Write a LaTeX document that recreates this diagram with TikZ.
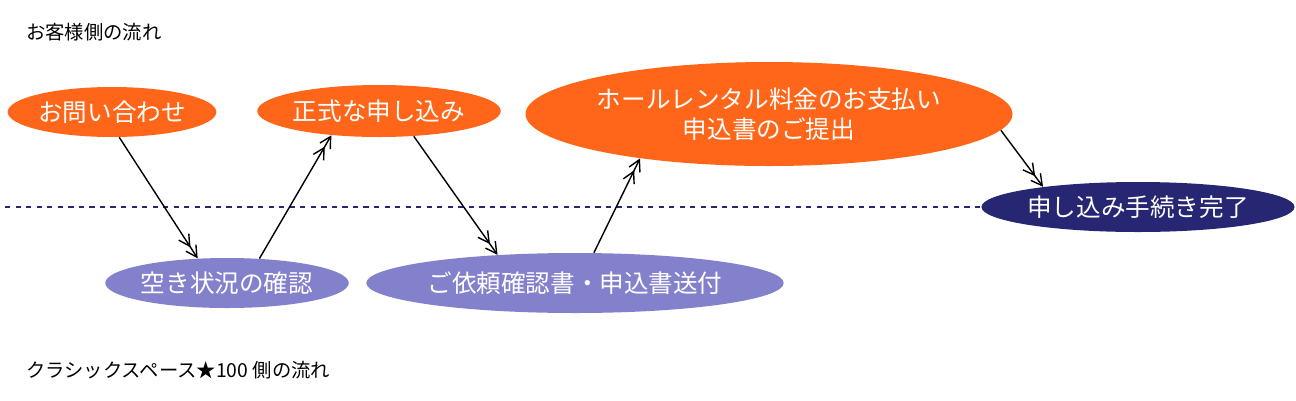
\documentclass[tikz,border=0pt]{standalone}
\usepackage{fontspec}
\setmainfont{Noto Sans CJK JP}
\usetikzlibrary{shapes.geometric}
\usetikzlibrary{arrows.meta}
\definecolor{guestorange}{HTML}{FF6619}
\definecolor{hallpurple}{HTML}{8481CC}
\definecolor{donenavy}{HTML}{262673}
\tikzset{StepStyle/.style={ellipse,inner sep=0pt,text=white,font=\fontsize{14}{17}\selectfont,align=center}}
\tikzset{FlowArrow/.style={thick,-{Straight Barb[length=2.2mm,width=2.4mm]Straight Barb[length=2.2mm,width=2.4mm]}}}
\begin{document}
\begin{tikzpicture}[x=0.02cm,y=-0.02cm]
        \useasboundingbox (0,0) rectangle (1296,400);
        \node[anchor=west,font=\fontsize{11}{13}\selectfont] (guest) at (20,32) {お客様側の流れ};
        \node[anchor=west,font=\fontsize{11}{13}\selectfont] (hall) at (20,370) {クラシックスペース★100 側の流れ};
        \coordinate (lineL) at (5,207);
        \node[StepStyle,fill=guestorange,minimum width=180*0.02cm,minimum height=50*0.02cm] (A) at (112,112) {お問い合わせ};
        \node[StepStyle,fill=hallpurple,minimum width=204*0.02cm,minimum height=50*0.02cm] (B) at (227,283) {空き状況の確認};
        \node[StepStyle,fill=guestorange,minimum width=192*0.02cm,minimum height=52*0.02cm] (C) at (379,111) {正式な申し込み};
        \node[StepStyle,fill=hallpurple,minimum width=322*0.02cm,minimum height=60*0.02cm] (D) at (575,283) {ご依頼確認書・申込書送付};
        \node[StepStyle,fill=guestorange,minimum width=372*0.02cm,minimum height=104*0.02cm] (E) at (769,114) {ホールレンタル料金のお支払い\\申込書のご提出};
        \node[StepStyle,fill=donenavy,minimum width=270*0.02cm,minimum height=50*0.02cm] (F) at (1138,207) {申し込み手続き完了};
        \draw[donenavy,dashed,thick] (lineL) -- (F.west);
        \draw[FlowArrow] (A.-74) -- (B.140);
        \draw[FlowArrow] (B.37) -- (C.-153);
        \draw[FlowArrow] (C.-36) -- (D.160);
        \draw[FlowArrow] (D.58) -- (E.-161);
        \draw[FlowArrow] (E.-4) -- (F.168);
    \end{tikzpicture}
\end{document}
